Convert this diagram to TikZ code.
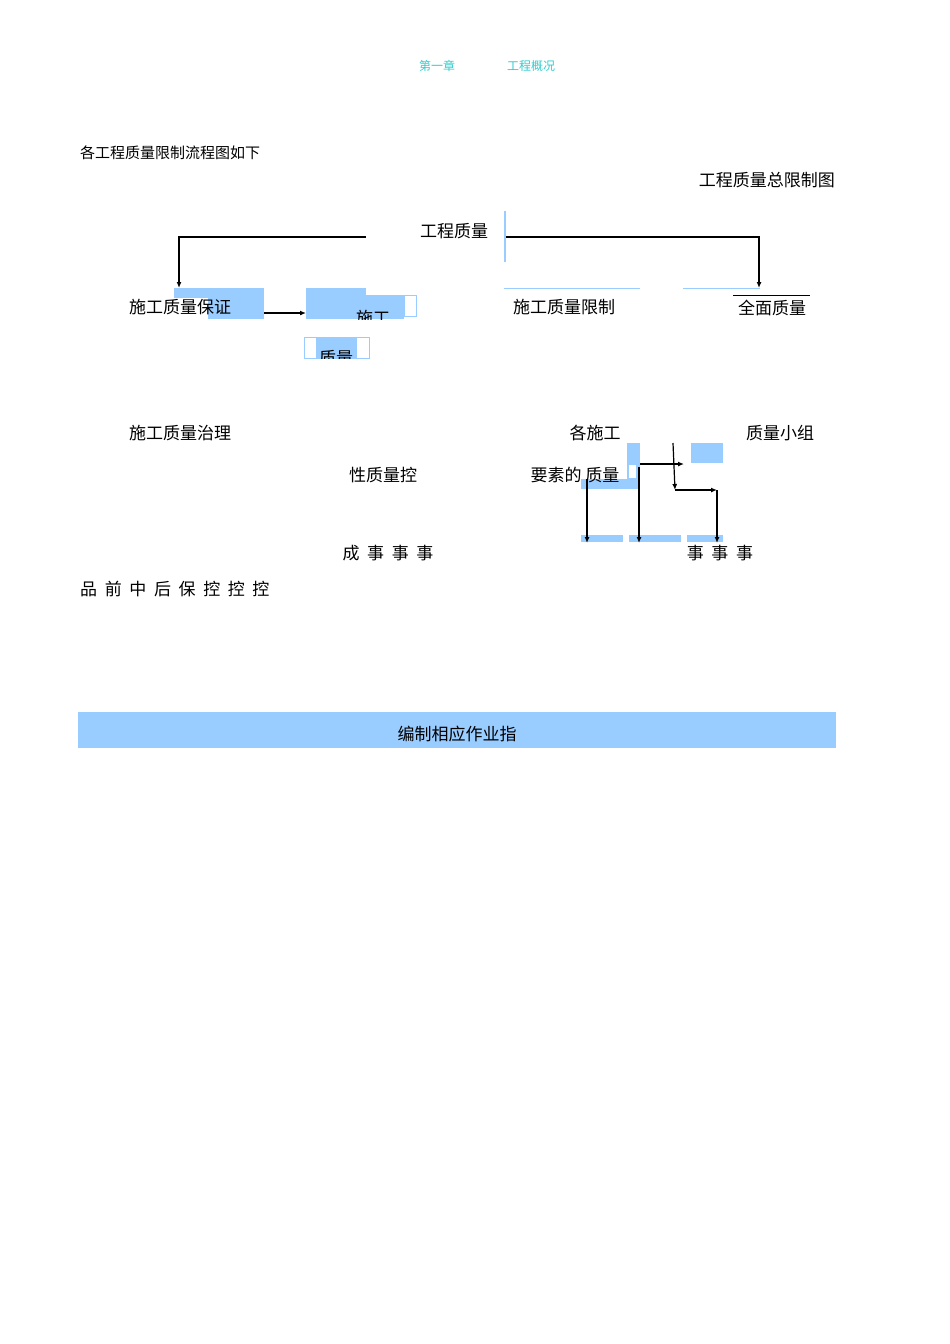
\documentclass[tikz,border=0pt]{standalone}
\usepackage{fontspec}
\setmainfont{Noto Sans CJK SC}
\usetikzlibrary{arrows.meta}
\definecolor{lb}{HTML}{99CCFF}
\definecolor{hc}{HTML}{33CCCC}
\begin{document}
\begin{tikzpicture}[x=1pt,y=-1pt,
  t/.style={inner sep=0pt,font=\fontsize{17}{17}\selectfont},
  hd/.style={inner sep=0pt,text=hc,font=\fontsize{12}{12}\selectfont},
  ar/.style={-{Latex[length=6pt,width=5pt]},line width=1.2pt},
  ln/.style={line width=1.2pt},
  bl/.style={fill=lb,draw=none}]
\useasboundingbox[fill=white] (0,0) rectangle (950,1344);
\node[hd] (h1) at (437,66) {第一章};
\node[hd] (h2) at (531,66) {工程概况};
\node[t,anchor=west,font=\fontsize{15}{15}\selectfont] (intro) at (80,153) {各工程质量限制流程图如下};
\node[t,anchor=east] (title) at (835,180) {工程质量总限制图};
\node[t] (root) at (454,231) {工程质量};
\draw[lb,line width=1.5pt] (505,211) -- (505,262);
\coordinate (l0) at (366,237); \coordinate (l1) at (179,237); \coordinate (l2) at (179,288);
\coordinate (r0) at (506,237); \coordinate (r1) at (759,237); \coordinate (r2) at (759,288);
\draw[ar] (l0) -- (l1) -- (l2);
\draw[ar] (r0) -- (r1) -- (r2);
% left blue blocks
\fill[lb] (174,288) rectangle (264,298);
\fill[lb] (208,288) rectangle (264,319);
\node[t,anchor=west] (n1) at (129,307) {施工质量保证};
\fill[lb] (306,288) rectangle (366,319);
\fill[lb] (366,295) rectangle (404,319);
\draw[lb] (404,295) rectangle (416,316);
\node[t] (n2) at (373,318) {施工};
\fill[white] (340,320) rectangle (410,332);
\coordinate (a0) at (264,313); \coordinate (a1) at (306,313);
\draw[ar] (a0) -- (a1);
\draw[lb] (304,337) rectangle (369,358);
\fill[lb] (316,337) rectangle (357,358);
\node[t] (n3) at (336,358) {质量};
\fill[white] (300,359) rectangle (372,372);
% right side top
\draw[lb,line width=0.8pt] (504,288) -- (640,288);
\draw[lb,line width=0.8pt] (683,288) -- (760,288);
\draw[line width=0.8pt] (733,295) -- (810,295);
\node[t] (n4) at (564,307) {施工质量限制};
\node[t] (n5) at (772,308) {全面质量};
% middle
\node[t,anchor=west] (n6) at (129,433) {施工质量治理};
\node[t] (n7) at (595,433) {各施工};
\node[t] (n8) at (780,433) {质量小组};
\node[t] (n9) at (383,475) {性质量控};
\fill[lb] (627,443) rectangle (640,489);
\fill[lb] (581,479) rectangle (640,489);
\fill[lb] (691,443) rectangle (723,463);
\node[t] (n10) at (575,475) {要素的\ 质量};
\fill[white] (629,465) rectangle (636,478);
\fill[lb] (581,535) rectangle (623,542);
\fill[lb] (629,535) rectangle (681,542);
\fill[lb] (687,535) rectangle (723,542);
\coordinate (b0) at (587,479); \coordinate (b1) at (587,543);
\coordinate (c0) at (640,464); \coordinate (c1) at (684,464);
\coordinate (d0) at (639,467); \coordinate (d1) at (639,543);
\coordinate (e0) at (673,443); \coordinate (e1) at (675,490);
\coordinate (e2) at (717,490); \coordinate (e3) at (717,543);
\draw[ar] (b0) -- (b1);
\draw[ar] (c0) -- (c1);
\draw[ar] (d0) -- (d1);
\draw[ar] (e0) -- (e1);
\draw[ar] (e1) -- (e2);
\draw[ar] (e2) -- (e3);
\node[t] (n11) at (388,553) {成\ \ 事\ \ 事\ \ 事};
\node[t] (n12) at (720,553) {事\ \ 事\ \ 事};
\node[t,anchor=west] (n13) at (80,589) {品\ \ 前\ \ 中\ \ 后\ \ 保\ \ 控\ \ 控\ \ 控};
\fill[lb] (78,712) rectangle (836,748);
\node[t] (n14) at (457,734) {编制相应作业指};
\end{tikzpicture}
\end{document}
